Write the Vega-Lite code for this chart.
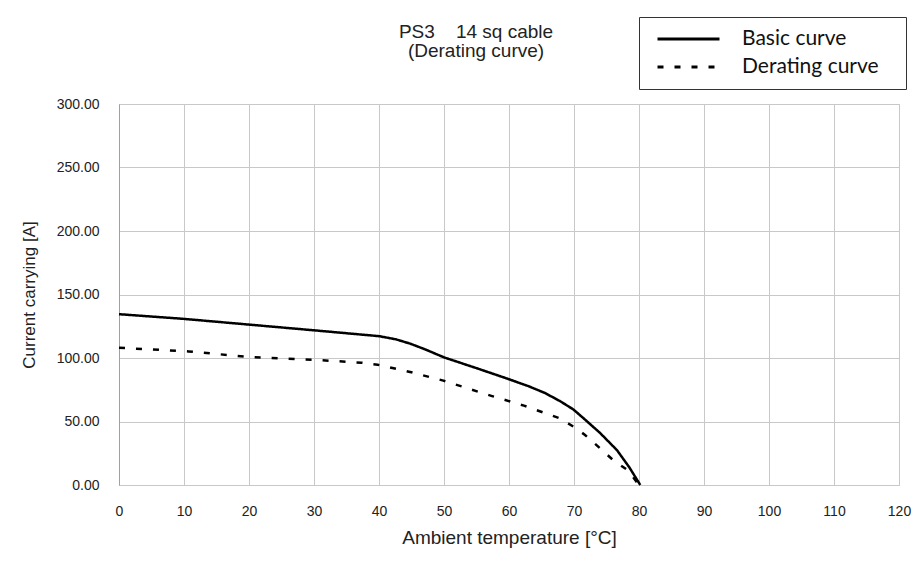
{
  "$schema": "https://vega.github.io/schema/vega-lite/v6.json",
  "width": 780,
  "height": 381,
  "autosize": {"type": "none"},
  "padding": {"left": 119, "top": 104, "right": 17, "bottom": 83},
  "background": "white",
  "title": {
    "text": ["PS3\u00a0\u00a0\u00a0\u00a014 sq cable", "(Derating curve)"],
    "anchor": "middle",
    "dx": -33,
    "offset": -44,
    "font": "Liberation Sans",
    "fontSize": 19,
    "fontWeight": "normal",
    "lineHeight": 19,
    "color": "#222222"
  },
  "config": {
    "view": {"stroke": "#a0a0a0", "strokeDash": [2, 1], "strokeWidth": 1},
    "axis": {
      "labelFont": "Liberation Sans",
      "labelFontSize": 14,
      "labelColor": "#222222",
      "titleFont": "Liberation Sans",
      "titleFontWeight": "normal",
      "titleColor": "#222222",
      "gridColor": "#c8c8c8",
      "gridWidth": 1,
      "ticks": false
    }
  },
  "data": {
    "values": [
      {"temp": 0, "current": 134.5, "curve": "Basic curve"},
      {"temp": 10, "current": 130.8, "curve": "Basic curve"},
      {"temp": 20, "current": 126.3, "curve": "Basic curve"},
      {"temp": 30, "current": 121.8, "curve": "Basic curve"},
      {"temp": 40, "current": 117.2, "curve": "Basic curve"},
      {"temp": 42.6, "current": 114.7, "curve": "Basic curve"},
      {"temp": 44.8, "current": 111.3, "curve": "Basic curve"},
      {"temp": 47, "current": 107, "curve": "Basic curve"},
      {"temp": 50, "current": 100.5, "curve": "Basic curve"},
      {"temp": 55, "current": 92, "curve": "Basic curve"},
      {"temp": 59.6, "current": 84, "curve": "Basic curve"},
      {"temp": 63, "current": 77.8, "curve": "Basic curve"},
      {"temp": 65.5, "current": 72.5, "curve": "Basic curve"},
      {"temp": 67.8, "current": 66.2, "curve": "Basic curve"},
      {"temp": 69.9, "current": 59.5, "curve": "Basic curve"},
      {"temp": 71.7, "current": 51.5, "curve": "Basic curve"},
      {"temp": 74, "current": 41, "curve": "Basic curve"},
      {"temp": 76.6, "current": 27.5, "curve": "Basic curve"},
      {"temp": 78.5, "current": 14, "curve": "Basic curve"},
      {"temp": 80.2, "current": 0, "curve": "Basic curve"},
      {"temp": 0, "current": 108, "curve": "Derating curve"},
      {"temp": 2.5, "current": 107.4, "curve": "Derating curve"},
      {"temp": 10.7, "current": 105.2, "curve": "Derating curve"},
      {"temp": 20, "current": 100.8, "curve": "Derating curve"},
      {"temp": 29.9, "current": 98.6, "curve": "Derating curve"},
      {"temp": 37.3, "current": 96.3, "curve": "Derating curve"},
      {"temp": 39.8, "current": 94.7, "curve": "Derating curve"},
      {"temp": 44.8, "current": 89, "curve": "Derating curve"},
      {"temp": 49.9, "current": 82.2, "curve": "Derating curve"},
      {"temp": 54, "current": 75.5, "curve": "Derating curve"},
      {"temp": 57.4, "current": 70, "curve": "Derating curve"},
      {"temp": 62.3, "current": 62.5, "curve": "Derating curve"},
      {"temp": 67.8, "current": 52.5, "curve": "Derating curve"},
      {"temp": 69.9, "current": 46, "curve": "Derating curve"},
      {"temp": 71.7, "current": 39.4, "curve": "Derating curve"},
      {"temp": 74, "current": 29, "curve": "Derating curve"},
      {"temp": 76, "current": 19.7, "curve": "Derating curve"},
      {"temp": 78.3, "current": 11.5, "curve": "Derating curve"},
      {"temp": 80, "current": 0, "curve": "Derating curve"}
    ]
  },
  "mark": {"type": "line", "color": "black", "strokeWidth": 2.5},
  "encoding": {
    "x": {
      "field": "temp",
      "type": "quantitative",
      "scale": {"domain": [0, 120], "nice": false, "zero": false},
      "axis": {
        "title": "Ambient temperature [°C]",
        "titleFontSize": 19,
        "titlePadding": 10,
        "values": [0, 10, 20, 30, 40, 50, 60, 70, 80, 90, 100, 110, 120],
        "labelPadding": 19,
        "domain": false,
        "labelFlush": false
      }
    },
    "y": {
      "field": "current",
      "type": "quantitative",
      "scale": {"domain": [0, 300], "nice": false},
      "axis": {
        "title": "Current carrying [A]",
        "titleFontSize": 17,
        "titlePadding": 18,
        "values": [0, 50, 100, 150, 200, 250, 300],
        "format": ".2f",
        "labelPadding": 20,
        "domain": true,
        "domainColor": "#a0a0a0",
        "labelFlush": false
      }
    },
    "strokeDash": {
      "field": "curve",
      "type": "nominal",
      "scale": {
        "domain": ["Basic curve", "Derating curve"],
        "range": [[1, 0], [6, 11]]
      },
      "legend": {
        "title": null,
        "orient": "none",
        "legendX": 520,
        "legendY": -87,
        "direction": "vertical",
        "padding": 12,
        "strokeColor": "#333333",
        "fillColor": "white",
        "symbolType": "stroke",
        "symbolSize": 3844,
        "symbolStrokeWidth": 3,
        "symbolStrokeColor": "black",
        "symbolOffset": 5,
        "clipHeight": 20,
        "labelFont": "Lato",
        "labelFontSize": 21,
        "labelColor": "#111111",
        "labelOffset": 21,
        "labelLimit": 300,
        "labelExpr": "datum.label + '\u2800'",
        "rowPadding": 7,
        "encode": {
          "symbols": {
            "update": {
              "strokeDash": {"signal": "datum.value === 'Derating curve' ? [9, 4] : [1, 0]"}
            }
          }
        }
      }
    }
  }
}
